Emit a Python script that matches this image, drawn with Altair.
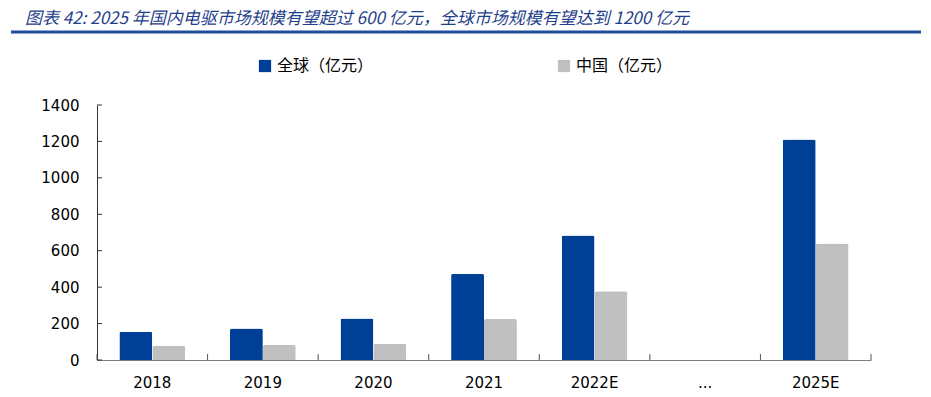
import altair as alt
import pandas as pd

title_text = ["图表 42:  2025 年国内电驱市场规模有望超过 600 亿元，全球市场规模有望达到 1200 亿元"]
categories = ["2018", "2019", "2020", "2021", "2022E", "...", "2025E"]
global_vals = [155, 173, 228, 474, 684, None, 1210]
china_vals = [78, 82, 89, 225, 378, None, 640]
series = ["全球（亿元）", "中国（亿元）"]
colors = ["#003f96", "#c0c0c0"]
y_ticks = [0, 200, 400, 600, 800, 1000, 1200, 1400]

rows = []
for c, g, ch in zip(categories, global_vals, china_vals):
    if g is not None:
        rows.append({"cat": c, "series": series[0], "value": g})
    if ch is not None:
        rows.append({"cat": c, "series": series[1], "value": ch})
df = pd.DataFrame(rows)

xscale = alt.Scale(domain=categories, paddingInner=0, paddingOuter=0)
yscale = alt.Scale(domain=[0, 1400], nice=False)

bars = alt.Chart(df).mark_bar(cornerRadiusTopLeft=2, cornerRadiusTopRight=2).encode(
    x=alt.X("cat:N", scale=xscale, sort=categories, title=None),
    xOffset=alt.XOffset("series:N", sort=series,
                        scale=alt.Scale(domain=series, paddingInner=0, paddingOuter=0.68)),
    y=alt.Y("value:Q", scale=yscale, title=None),
    color=alt.Color("series:N", sort=series,
                    scale=alt.Scale(domain=series, range=colors),
                    legend=alt.Legend(title=None, orient="none", direction="horizontal",
                                      legendX=160, legendY=-47, symbolType="square",
                                      symbolSize=150, symbolStrokeWidth=0,
                                      labelFont="Noto Sans CJK SC", labelFontSize=16,
                                      labelColor="#000000", labelOffset=4,
                                      columnPadding=182)),
)

ytick_df = pd.DataFrame({"v": y_ticks})
yticks = alt.Chart(ytick_df).mark_rule(color="#333333", strokeWidth=1).encode(
    y=alt.Y("v:Q", scale=yscale, title=None),
    x=alt.value(0), x2=alt.value(5),
)

xtick_df = pd.DataFrame({"cat": categories})
xticks = alt.Chart(xtick_df).mark_rule(color="#555555", strokeWidth=1).encode(
    x=alt.X("cat:N", scale=xscale, sort=categories, bandPosition=0, title=None),
    y=alt.value(249), y2=alt.value(255),
)
xtick_end = alt.Chart(pd.DataFrame({"cat": [categories[-1]]})).mark_rule(
    color="#555555", strokeWidth=1).encode(
    x=alt.X("cat:N", scale=xscale, sort=categories, bandPosition=1, title=None),
    y=alt.value(249), y2=alt.value(255),
)

underline = alt.Chart(pd.DataFrame({"a": [0]})).mark_rule(
    color="#1f4e9c", strokeWidth=3).encode(
    x=alt.value(-86), x2=alt.value(824), y=alt.value(-73),
)

title = alt.Chart(pd.DataFrame({"t": title_text})).mark_text(
    align="left", baseline="middle", font="Noto Sans CJK SC", fontSize=17,
    fontStyle="italic", color="#1f3f8c").encode(
    text="t:N", x=alt.value(-72), y=alt.value(-86),
)

chart = alt.layer(bars, yticks, xticks, xtick_end, underline, title).properties(
    width=774, height=255,
    autosize=alt.AutoSizeParams(type="none"),
    padding={"left": 89, "top": 97, "right": 52, "bottom": 31},
).configure_view(stroke=None).configure_axis(
    ticks=False, grid=False, labelOverlap=False,
    labelFont="DejaVu Sans", labelFontSize=15, labelColor="#000000",
).configure_axisX(
    labelAngle=0, domainColor="#7f7f7f", labelPadding=15,
).configure_axisY(
    domainColor="#333333", labelPadding=18, tickCount=8, format="d",
)

chart.save("out.html", embed_options={"renderer": "svg", "actions": False})
